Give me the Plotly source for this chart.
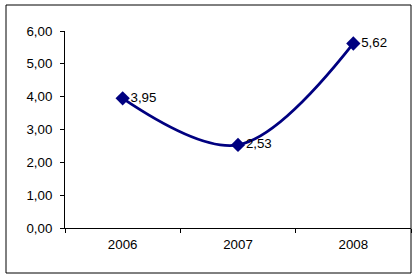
import plotly.graph_objects as go

years = ["2006", "2007", "2008"]
values = [3.95, 2.53, 5.62]
labels = [f"{v:.2f}".replace(".", ",") for v in values]
y_ticks = [0, 1, 2, 3, 4, 5, 6]

FS = 13.3

fig = go.Figure()
fig.add_trace(go.Scatter(
    x=years, y=values,
    mode="lines+markers+text",
    line=dict(color="#000080", width=2.8, shape="spline", smoothing=1.0),
    marker=dict(symbol="diamond", size=11, color="#000080"),
    text=labels, textposition="middle right",
    textfont=dict(family="Liberation Sans, Arial", size=FS, color="black"),
    cliponaxis=False,
    hoverinfo="skip",
))

W, H = 418, 279
ml, mr, mt, mb = 65, 7, 31, 51
pw, ph = W - ml - mr, H - mt - mb

def px(x):
    return (x - ml) / pw

def py(y):
    return (H - mb - y) / ph

fig.add_shape(type="rect", xref="paper", yref="paper",
              x0=px(6), x1=px(411), y0=py(273), y1=py(5),
              line=dict(color="black", width=1), fillcolor="rgba(0,0,0,0)")

fig.update_layout(
    width=W, height=H,
    margin=dict(l=ml, r=mr, t=mt, b=mb),
    paper_bgcolor="white", plot_bgcolor="white",
    separators=",.",
    showlegend=False,
    font=dict(family="Liberation Sans, Arial", size=FS, color="black"),
)
fig.update_xaxes(
    type="category", range=[-0.5, 2.5],
    showline=True, linecolor="black", linewidth=1,
    ticks="outside", tickson="boundaries", ticklen=4, tickcolor="black",
    showgrid=False, zeroline=False,
    tickfont=dict(size=FS, color="black"),
    ticklabelstandoff=4,
)
fig.update_yaxes(
    range=[0, 6], tickvals=y_ticks, tickformat=".2f",
    showline=True, linecolor="black", linewidth=1,
    ticks="outside", ticklen=4, tickcolor="black",
    showgrid=False, zeroline=False,
    tickfont=dict(size=FS, color="black"),
    ticklabelstandoff=5,
)

fig.write_html("out.html")
